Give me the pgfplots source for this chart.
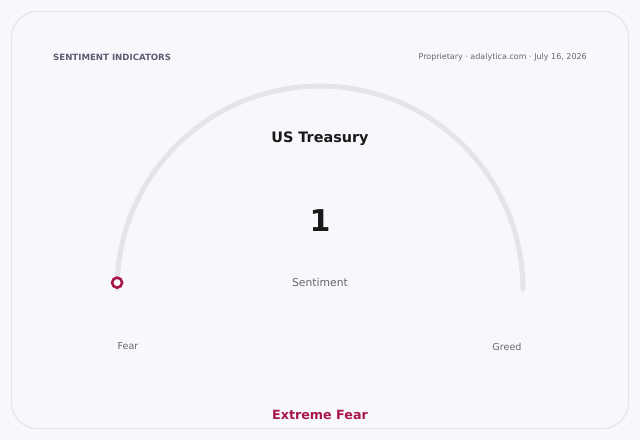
\documentclass[border=0pt]{standalone}
\usepackage{pgfplots}
\pgfplotsset{compat=1.18}
\usepackage{pgfplotstable}
\usepackage{fontspec}
\setmainfont{DejaVu Sans}

\definecolor{pagebg}{HTML}{F8F8FC}
\definecolor{cardline}{HTML}{E2E2EC}
\definecolor{track}{HTML}{E4E4EA}
\definecolor{fearred}{HTML}{A8174A}
\definecolor{subtle}{HTML}{5C5C72}
\definecolor{softgray}{HTML}{66666E}

% gauge reading (0 = extreme fear, 100 = extreme greed) and track radius
\pgfplotstableread{
v r
1 203
}\gaugedata

\begin{document}
\begin{tikzpicture}
\begin{axis}[
    x=1pt, y=1pt, y dir=reverse,
    xmin=0, xmax=640, ymin=0, ymax=440,
    scale only axis, hide axis, clip=false,
]
% page and card
\fill[pagebg] (axis cs:0,0) rectangle (axis cs:640,440);
\draw[cardline, fill=pagebg, line width=1pt, rounded corners=26pt]
    (axis cs:11.5,11.5) rectangle (axis cs:628.5,428.5);

% header
\node[anchor=west, inner sep=0pt, font=\fontsize{8.6}{10}\selectfont\bfseries, text=subtle]
    at (axis cs:53,57.5) {SENTIMENT INDICATORS};
\node[anchor=east, inner sep=0pt, font=\fontsize{8}{9}\selectfont, text=softgray]
    at (axis cs:587,57.5) {Proprietary · adalytica.com · July 16, 2026};

% gauge track
\draw[track, line width=5pt, line cap=round]
    (axis cs:117,289) arc[start angle=180, end angle=0, radius=203pt];

% reading marker
\addplot[only marks, mark=*, mark size=5pt,
    mark options={draw=fearred, fill=white, line width=2.6pt}]
    table[x expr={320-\thisrow{r}*cos(1.8*\thisrow{v})},
          y expr={289-\thisrow{r}*sin(1.8*\thisrow{v})}] {\gaugedata};

% texts
\node[font=\fontsize{14.4}{16}\selectfont\bfseries, text=black!90]
    at (axis cs:320,139) {US Treasury};
\node[font=\fontsize{30}{32}\selectfont\bfseries, text=black!90]
    at (axis cs:320,221) {1};
\node[font=\fontsize{10.8}{12}\selectfont, text=softgray]
    at (axis cs:320,282) {Sentiment};
\node[font=\fontsize{9.6}{11}\selectfont, text=softgray]
    at (axis cs:128,346.5) {Fear};
\node[font=\fontsize{9.6}{11}\selectfont, text=softgray]
    at (axis cs:507,346.5) {Greed};
\node[font=\fontsize{12.7}{14}\selectfont\bfseries, text=fearred]
    at (axis cs:320,415) {Extreme Fear};
\end{axis}
\end{tikzpicture}
\end{document}
